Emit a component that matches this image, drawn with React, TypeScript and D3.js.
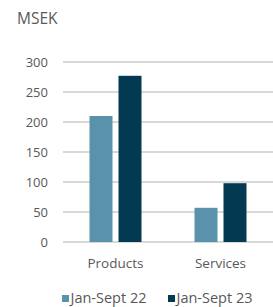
import React from "react";
import * as d3 from "d3";

const categories = ["Products", "Services"];
const seriesNames = ["Jan-Sept 22", "Jan-Sept 23"];
const values22 = [210, 57];
const values23 = [277, 98];
const yTicks = [0, 50, 100, 150, 200, 250, 300];
const colors = ["#5a91ab", "#033a51"];

const width = 273;
const height = 307;
const font = "'Open Sans', sans-serif";
const textColor = "#595959";

const App: React.FC = () => {
  const margin = { left: 63, right: 0, top: 62, bottom: 65 };
  const plotBottom = height - margin.bottom;

  const x0 = d3
    .scaleBand<string>()
    .domain(categories)
    .range([margin.left, width - margin.right])
    .padding(0);

  const x1 = d3
    .scaleBand<string>()
    .domain(seriesNames)
    .range([0, x0.bandwidth()])
    .paddingInner(0.207)
    .paddingOuter(0.914);

  const y = d3.scaleLinear().domain([0, 300]).range([plotBottom, margin.top]);

  const series = [values22, values23];

  return (
    <svg
      width={width}
      height={height}
      style={{ position: "absolute", left: 0, top: 0, background: "#fff" }}
    >
      <text x={17} y={24} fontFamily={font} fontSize={15.5} fill={textColor}>
        MSEK
      </text>
      {yTicks.map((t) => (
        <g key={t}>
          <line
            x1={margin.left}
            x2={width}
            y1={y(t)}
            y2={y(t)}
            stroke="#d9d9d9"
            strokeWidth={2}
          />
          <text
            x={48}
            y={y(t)}
            dy="0.36em"
            textAnchor="end"
            fontFamily={font}
            fontSize={13}
            fill={textColor}
          >
            {t}
          </text>
        </g>
      ))}
      {categories.map((c, i) => (
        <g key={c} transform={`translate(${x0(c)},0)`}>
          {seriesNames.map((s, j) => (
            <rect
              key={s}
              x={x1(s)}
              y={y(series[j][i])}
              width={x1.bandwidth()}
              height={plotBottom - y(series[j][i])}
              fill={colors[j]}
            />
          ))}
          <text
            x={x0.bandwidth() / 2}
            y={267.5}
            textAnchor="middle"
            fontFamily={font}
            fontSize={13.5}
            fill={textColor}
          >
            {c}
          </text>
        </g>
      ))}
      {seriesNames.map((s, j) => {
        const lx = j === 0 ? 62 : 168;
        return (
          <g key={s}>
            <rect x={lx} y={295} width={7} height={7} fill={colors[j]} />
            <text
              x={lx + 8.5}
              y={302.5}
              fontFamily={font}
              fontSize={14.5}
              fill={textColor}
            >
              {s}
            </text>
          </g>
        );
      })}
    </svg>
  );
};

export default App;
